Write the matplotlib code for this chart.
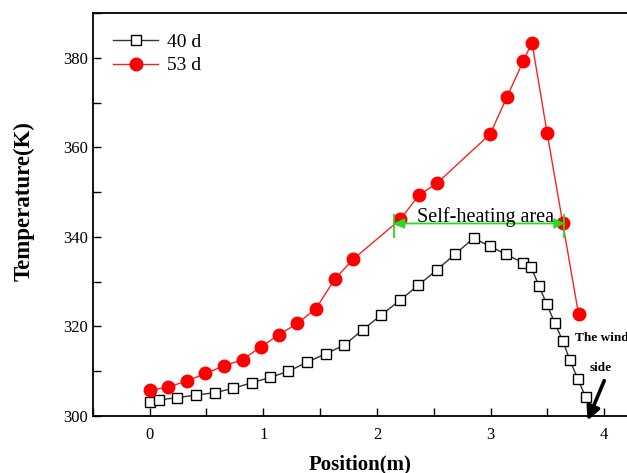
import matplotlib
matplotlib.use('Agg')
from matplotlib import pyplot as plt
from matplotlib.ticker import MultipleLocator

plt.rcParams['font.family'] = ['Liberation Serif', 'DejaVu Serif']

# 40 d
pos_40 = [0.0, 0.082, 0.245, 0.409, 0.573, 0.736, 0.897, 1.058, 1.221, 1.385,
          1.548, 1.712, 1.876, 2.036, 2.2, 2.364, 2.53, 2.69, 2.85, 2.994,
          3.136, 3.285, 3.358, 3.424, 3.494, 3.564, 3.636, 3.697, 3.767, 3.836]
temp_40 = [303.2, 303.6, 304.1, 304.7, 305.2, 306.2, 307.4, 308.6, 310.0, 312.0,
           313.9, 315.8, 319.3, 322.5, 325.8, 329.2, 332.7, 336.2, 339.7, 337.9,
           336.1, 334.2, 333.2, 329.1, 325.0, 320.8, 316.7, 312.5, 308.3, 304.2]

# 53 d
pos_53 = [0.0, 0.164, 0.327, 0.491, 0.655, 0.818, 0.976, 1.136, 1.3, 1.464,
          1.627, 1.79, 2.205, 2.369, 2.529, 2.997, 3.143, 3.288, 3.364, 3.498,
          3.635, 3.774]
temp_53 = [305.7, 306.5, 307.8, 309.5, 311.2, 312.6, 315.4, 318.1, 320.7, 324.0,
           330.5, 335.0, 343.9, 349.3, 352.0, 363.0, 371.2, 379.3, 383.4, 363.1,
           343.0, 322.7]

fig = plt.figure(figsize=(6.27, 4.73), dpi=100)
ax = fig.add_axes([0.148, 0.1205, 0.852, 0.852])

ax.plot(pos_40, temp_40, color='#333333', lw=1.0, marker='s', ms=7,
        mfc='white', mec='black', mew=1.0, label='40 d')
ax.plot(pos_53, temp_53, color='#ff2020', lw=1.0, marker='o', ms=9,
        mfc='red', mec='red', label='53 d')

# self-heating area
green = '#22dd22'
ax.vlines([2.15, 3.65], 339.7, 345.1, color=green, lw=1.3)
ax.annotate('', xy=(2.15, 343.0), xytext=(3.65, 343.0),
            arrowprops=dict(arrowstyle='<|-|>', color=green, lw=1.3,
                            shrinkA=0, shrinkB=0, mutation_scale=15))
ax.text(2.955, 343.3, 'Self-heating area', fontsize=14.5, ha='center', va='baseline')

# wind side
ax.text(3.74, 317.5, 'The wind', fontsize=9.5, fontweight='bold', ha='left', va='center')
ax.text(3.97, 310.8, 'side', fontsize=9.5, fontweight='bold', ha='center', va='center')
ax.annotate('', xy=(3.853, 299.0), xytext=(4.0, 307.9),
            arrowprops=dict(arrowstyle='-|>', color='black', lw=2.6,
                            mutation_scale=20, shrinkA=0, shrinkB=0),
            annotation_clip=False)

ax.set_xlim(-0.5, 4.2)
ax.set_ylim(300, 390)
ax.xaxis.set_major_locator(MultipleLocator(1))
ax.xaxis.set_minor_locator(MultipleLocator(0.5))
ax.yaxis.set_major_locator(MultipleLocator(20))
ax.yaxis.set_minor_locator(MultipleLocator(10))
ax.tick_params(which='both', direction='in', labelsize=12, width=1.0, length=6)
ax.tick_params(axis='x', pad=8)
for s in ['left', 'bottom', 'top']:
    ax.spines[s].set_linewidth(1.3)
ax.spines['right'].set_visible(False)

ax.set_xlabel('Position(m)', fontsize=15, fontweight='bold', labelpad=8)
ax.set_ylabel('Temperature(K)', fontsize=16.5, fontweight='bold')
ax.yaxis.set_label_coords(-0.108, 0.533)

ax.legend(loc='upper left', frameon=False, fontsize=14, handlelength=2.3,
          borderaxespad=0.55, borderpad=0.5, labelspacing=0.3, handletextpad=0.45)

plt.savefig('out.png', dpi=100)
